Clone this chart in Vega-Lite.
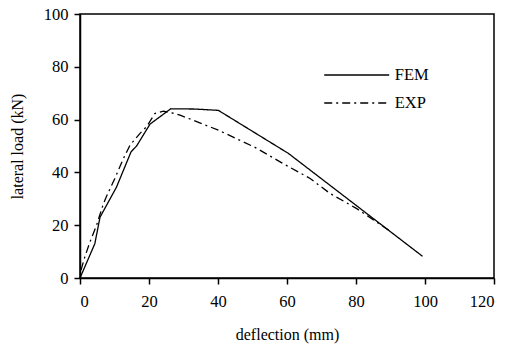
{
  "$schema": "https://vega.github.io/schema/vega-lite/v6.json",
  "width": 414,
  "height": 264,
  "autosize": "none",
  "padding": {"left": 80, "top": 14, "right": 14, "bottom": 71},
  "background": "white",
  "config": {
    "font": "Liberation Serif",
    "view": {"stroke": "#000", "strokeWidth": 1.5},
    "legend": {"labelFont": "Liberation Serif"},
    "axis": {"grid": false, "domainColor": "#000", "domainWidth": 1.5, "tickColor": "#000", "tickWidth": 1.5, "tickSize": 6, "labelFont": "Liberation Serif", "labelFontSize": 16.5, "labelColor": "#000", "titleFont": "Liberation Serif", "titleFontSize": 16, "titleFontWeight": "normal", "titleColor": "#000"}
  },
  "data": {
    "values": [
      {"series": "FEM", "x": 0, "y": 0},
      {"series": "FEM", "x": 4.3, "y": 13},
      {"series": "FEM", "x": 5.8, "y": 23},
      {"series": "FEM", "x": 10.6, "y": 34.5},
      {"series": "FEM", "x": 14.8, "y": 47.8},
      {"series": "FEM", "x": 16.4, "y": 50},
      {"series": "FEM", "x": 20.3, "y": 58.3},
      {"series": "FEM", "x": 26.3, "y": 64.1},
      {"series": "FEM", "x": 33.3, "y": 64},
      {"series": "FEM", "x": 40.1, "y": 63.5},
      {"series": "FEM", "x": 60.4, "y": 47.2},
      {"series": "FEM", "x": 99.3, "y": 8.2},
      {"series": "EXP", "x": 0.3, "y": 3},
      {"series": "EXP", "x": 1.4, "y": 8},
      {"series": "EXP", "x": 2.9, "y": 13.7},
      {"series": "EXP", "x": 4.8, "y": 20},
      {"series": "EXP", "x": 6.8, "y": 28.2},
      {"series": "EXP", "x": 7.7, "y": 31},
      {"series": "EXP", "x": 10.1, "y": 37.7},
      {"series": "EXP", "x": 12.6, "y": 45.3},
      {"series": "EXP", "x": 14.5, "y": 50.3},
      {"series": "EXP", "x": 17.4, "y": 54.8},
      {"series": "EXP", "x": 19.3, "y": 57.3},
      {"series": "EXP", "x": 21.7, "y": 62.3},
      {"series": "EXP", "x": 24.2, "y": 63.2},
      {"series": "EXP", "x": 27.5, "y": 62.3},
      {"series": "EXP", "x": 29, "y": 61.7},
      {"series": "EXP", "x": 40.1, "y": 56},
      {"series": "EXP", "x": 50.7, "y": 49.5},
      {"series": "EXP", "x": 58.5, "y": 43.6},
      {"series": "EXP", "x": 66.7, "y": 37.7},
      {"series": "EXP", "x": 72.5, "y": 32},
      {"series": "EXP", "x": 80.2, "y": 26.3},
      {"series": "EXP", "x": 86, "y": 21.2},
      {"series": "EXP", "x": 89.9, "y": 17.7}
    ]
  },
  "mark": {"type": "line", "color": "#000", "strokeWidth": 1.3},
  "encoding": {
    "x": {"field": "x", "type": "quantitative", "title": "deflection (mm)",
      "scale": {"domain": [0, 120], "nice": false},
      "axis": {"values": [0, 20, 40, 60, 80, 100, 120], "labelFont": "Liberation Serif", "labelFontSize": 16.5, "labelPadding": 9, "titlePadding": 17}},
    "y": {"field": "y", "type": "quantitative", "title": "lateral load (kN)",
      "scale": {"domain": [0, 100], "nice": false},
      "axis": {"values": [0, 20, 40, 60, 80, 100], "labelFont": "Liberation Serif", "labelFontSize": 16.5, "labelPadding": 6, "titlePadding": 18}},
    "strokeDash": {"field": "series", "type": "nominal",
      "scale": {"domain": ["FEM", "EXP"], "range": [[1, 0], [8, 4, 2, 4]]},
      "legend": {"title": null, "orient": "none", "legendX": 264.7, "legendY": 49,
        "symbolType": "M-3,0H3", "symbolSize": 469, "symbolStrokeWidth": 1.5, "symbolStrokeColor": "#000",
        "labelFont": "Liberation Serif", "labelFontSize": 16.5, "labelColor": "#000", "labelOffset": 26, "rowPadding": 7}}
  }
}
